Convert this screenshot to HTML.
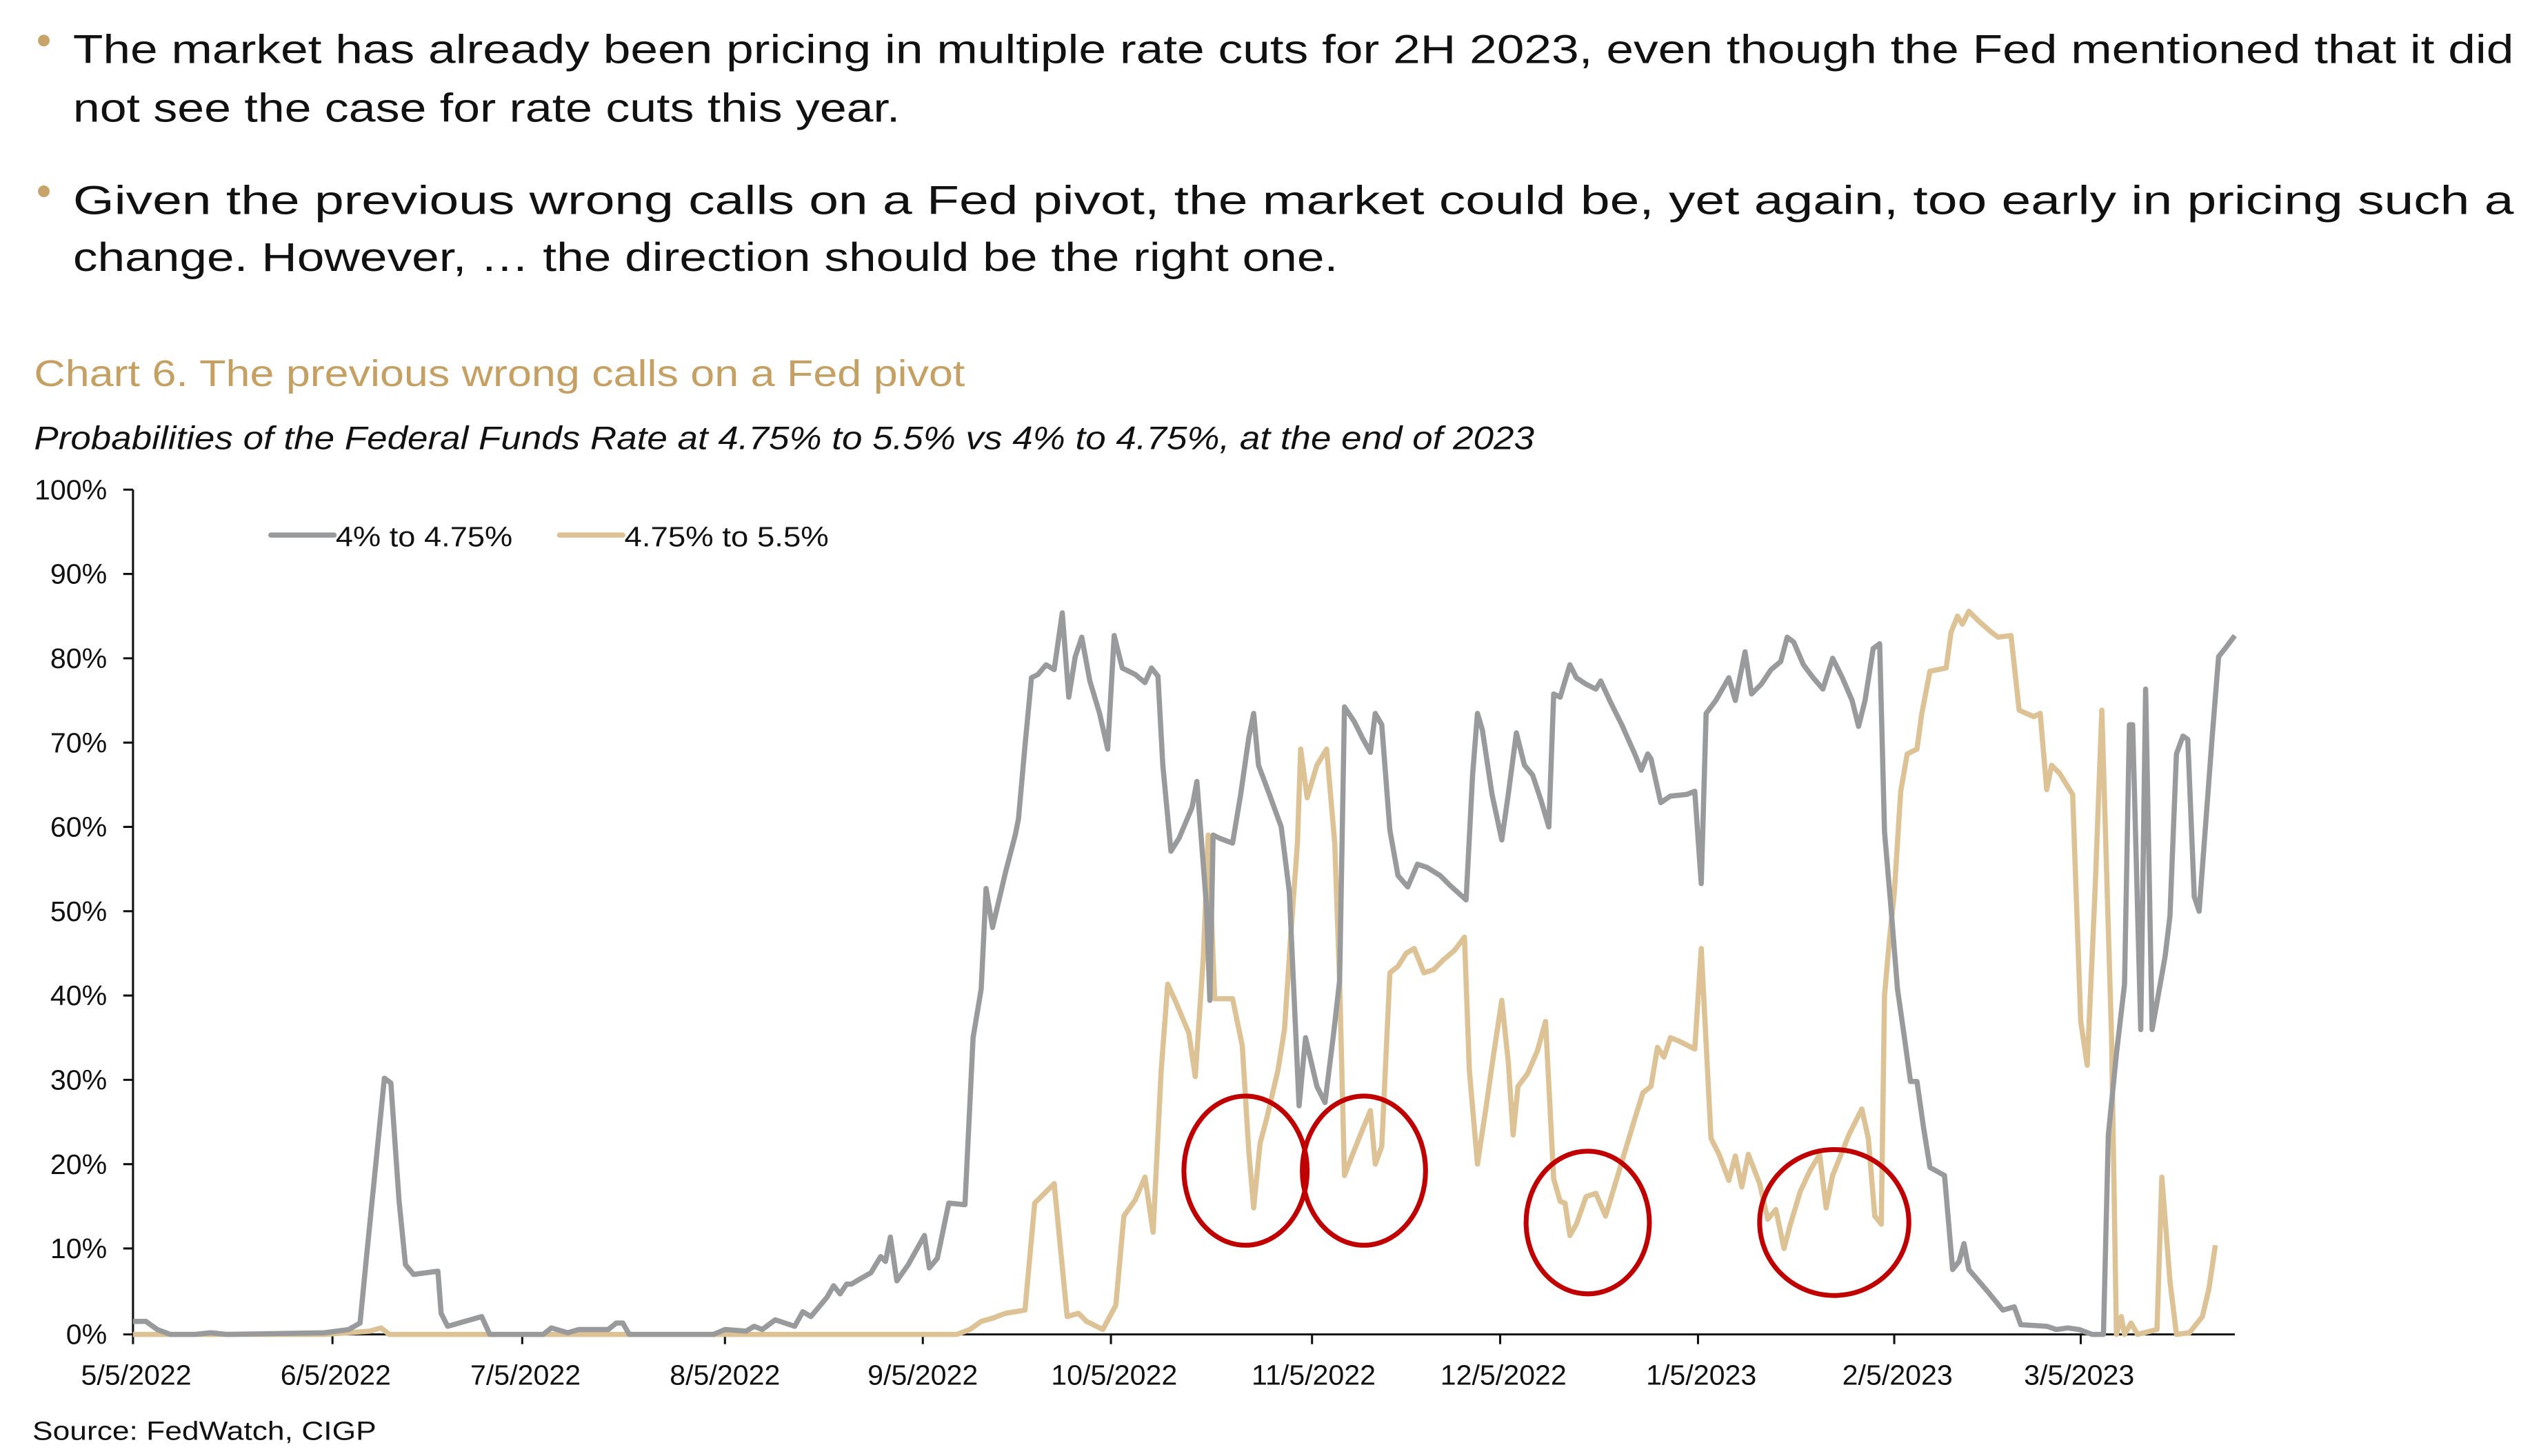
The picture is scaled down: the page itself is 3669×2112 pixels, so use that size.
<!DOCTYPE html>
<html><head><meta charset="utf-8"><style>
html,body{margin:0;padding:0;background:#fff;}
svg{display:block;}
text{font-family:"Liberation Sans",sans-serif;}
</style></head><body>
<svg width="3669" height="2112" viewBox="0 0 1560 898" xmlns="http://www.w3.org/2000/svg">
<rect width="1560" height="898" fill="#fff"/>
<circle cx="27" cy="25" r="3.6" fill="#C9A46A"/>
<circle cx="27" cy="118" r="3.6" fill="#C9A46A"/>
<g font-size="25" fill="#111">
<text x="45" y="39" textLength="1505" lengthAdjust="spacingAndGlyphs">The market has already been pricing in multiple rate cuts for 2H 2023, even though the Fed mentioned that it did</text>
<text x="45" y="75" textLength="510" lengthAdjust="spacingAndGlyphs">not see the case for rate cuts this year.</text>
<text x="45" y="132" textLength="1505" lengthAdjust="spacingAndGlyphs">Given the previous wrong calls on a Fed pivot, the market could be, yet again, too early in pricing such a</text>
<text x="45" y="167" textLength="780" lengthAdjust="spacingAndGlyphs">change. However, … the direction should be the right one.</text>
</g>
<text x="21" y="238" font-size="23" fill="#C5A062" textLength="574" lengthAdjust="spacingAndGlyphs">Chart 6. The previous wrong calls on a Fed pivot</text>
<text x="21" y="277" font-size="20" font-style="italic" fill="#111" textLength="925" lengthAdjust="spacingAndGlyphs">Probabilities of the Federal Funds Rate at 4.75% to 5.5% vs 4% to 4.75%, at the end of 2023</text>
<g font-size="17.5" fill="#111" text-anchor="end">
<text x="66" y="308">100%</text><text x="66" y="360">90%</text><text x="66" y="412">80%</text><text x="66" y="464">70%</text><text x="66" y="516">60%</text><text x="66" y="568">50%</text><text x="66" y="620">40%</text><text x="66" y="672">30%</text><text x="66" y="724">20%</text><text x="66" y="776">10%</text><text x="66" y="829">0%</text>
</g>
<g stroke="#111" stroke-width="1.3" fill="none">
<line x1="82" y1="302" x2="82" y2="823"/>
<line x1="82" y1="823" x2="1378" y2="823"/>
<path d="M76 302H82M76 354H82M76 406H82M76 458H82M76 510H82M76 562H82M76 614H82M76 666H82M76 718H82M76 770H82M76 823H82"/>
<path d="M82 823V829M205 823V829M322 823V829M447 823V829M569 823V829M685 823V829M809 823V829M925 823V829M1047 823V829M1168 823V829M1283 823V829"/>
</g>
<g font-size="17.5" fill="#111" text-anchor="middle">
<text x="84" y="854">5/5/2022</text><text x="207" y="854">6/5/2022</text><text x="324" y="854">7/5/2022</text><text x="447" y="854">8/5/2022</text><text x="569" y="854">9/5/2022</text><text x="687" y="854">10/5/2022</text><text x="810" y="854">11/5/2022</text><text x="927" y="854">12/5/2022</text><text x="1049" y="854">1/5/2023</text><text x="1170" y="854">2/5/2023</text><text x="1282" y="854">3/5/2023</text>
</g>
<text x="20" y="888" font-size="16" fill="#111" textLength="212" lengthAdjust="spacingAndGlyphs">Source: FedWatch, CIGP</text>
<line x1="167" y1="330" x2="206" y2="330" stroke="#999a9c" stroke-width="3.2" stroke-linecap="round"/>
<text x="207" y="337" font-size="17.5" fill="#111" textLength="109" lengthAdjust="spacingAndGlyphs">4% to 4.75%</text>
<line x1="345" y1="330" x2="384" y2="330" stroke="#DCC294" stroke-width="3.2" stroke-linecap="round"/>
<text x="385" y="337" font-size="17.5" fill="#111" textLength="126" lengthAdjust="spacingAndGlyphs">4.75% to 5.5%</text>
<polyline fill="none" stroke="#DCC294" stroke-width="3.2" stroke-linejoin="round" points="82,823 200,823 228,821 235,819 240,823 300,823 590,823 598,820 605,815 612,813 620,810 632,808 638,742 650,730 658,812 665,810 670,815 680,820 688,805 693,750 700,740 706,726 711,760 716,660 720,607 725,618 733,637 737,664 742,590 745,515 749,616 760,616 766,645 770,710 773,745 777,705 781,690 788,660 792,635 796,575 800,520 802,462 806,492 812,472 818,462 823,520 826,605 829,725 834,712 840,697 845,685 848,718 852,707 857,600 862,596 867,588 872,585 878,600 884,598 890,592 897,586 903,578 906,660 911,718 916,685 921,650 926,617 930,655 933,700 936,670 942,662 948,648 953,630 958,727 962,741 965,742 968,762 972,755 978,738 984,736 990,750 996,730 1002,710 1008,690 1013,674 1018,670 1022,646 1026,652 1030,640 1035,642 1045,647 1049,585 1055,702 1060,712 1066,728 1070,713 1074,732 1078,712 1085,730 1090,752 1095,746 1100,770 1104,755 1110,735 1116,722 1122,712 1126,745 1130,725 1136,710 1140,700 1148,684 1152,702 1156,750 1160,755 1162,614 1165,580 1168,551 1172,488 1176,465 1182,462 1185,440 1190,414 1200,412 1203,390 1207,380 1210,385 1214,377 1220,383 1228,390 1232,393 1240,392 1245,438 1254,442 1258,440 1262,487 1265,472 1270,477 1278,490 1283,630 1287,657 1292,545 1296,438 1302,640 1305,823 1308,812 1310,823 1314,816 1318,823 1330,820 1333,726 1338,790 1342,823 1350,822 1358,812 1362,795 1366,768"/>
<polyline fill="none" stroke="#999a9c" stroke-width="3.2" stroke-linejoin="round" points="82,815 90,815 97,820 105,823 120,823 130,822 140,823 200,822 215,820 222,816 226,775 232,715 237,665 241,668 246,740 250,780 255,786 270,784 272,810 276,818 297,812 302,823 335,823 340,819 350,822 357,820 375,820 380,816 384,816 388,823 440,823 447,820 460,821 465,818 470,820 478,814 490,818 495,809 500,812 505,806 510,800 514,793 518,798 522,792 525,792 530,789 537,785 543,775 546,778 549,763 553,790 560,780 570,762 573,782 578,776 585,742 595,743 600,640 605,610 608,548 612,572 620,538 626,515 628,505 632,460 636,418 640,416 645,410 650,413 655,378 659,430 663,405 667,393 672,420 678,440 683,462 687,392 692,412 700,416 706,421 710,412 714,417 717,472 722,525 727,517 735,498 738,482 744,560 746,617 748,515 752,517 760,520 765,490 770,455 773,440 776,472 782,488 790,510 795,550 801,682 805,640 812,670 817,680 822,640 826,605 829,436 835,445 840,455 845,464 848,440 852,447 857,512 862,540 868,547 874,533 880,535 888,540 894,546 904,555 908,478 911,440 914,450 920,490 926,518 930,490 935,452 940,472 945,478 950,493 955,510 958,428 962,430 968,410 972,418 978,422 984,425 987,420 993,433 1000,447 1008,465 1012,475 1016,465 1018,468 1024,495 1030,491 1040,490 1045,488 1049,545 1052,440 1058,432 1066,418 1070,432 1076,402 1080,428 1086,422 1092,413 1098,408 1102,393 1106,396 1112,410 1118,418 1124,425 1130,406 1136,418 1142,432 1146,448 1150,432 1155,400 1159,397 1162,513 1166,560 1170,610 1174,638 1178,667 1182,667 1186,695 1190,720 1199,725 1204,783 1208,778 1211,767 1214,783 1226,797 1235,808 1242,806 1246,817 1262,818 1268,820 1275,819 1282,820 1290,823 1297,823 1300,700 1305,650 1310,607 1313,447 1315,447 1320,635 1323,425 1327,635 1335,590 1338,565 1342,465 1346,454 1349,456 1353,553 1356,562 1364,455 1368,405 1372,400 1378,392"/>
<g fill="none" stroke="#C00000" stroke-width="3">
<ellipse cx="768" cy="722" rx="38" ry="46"/>
<ellipse cx="841" cy="722" rx="38" ry="46"/>
<ellipse cx="979" cy="754" rx="38" ry="44"/>
<ellipse cx="1131" cy="754" rx="46" ry="45"/>
</g>
</svg>
</body></html>
